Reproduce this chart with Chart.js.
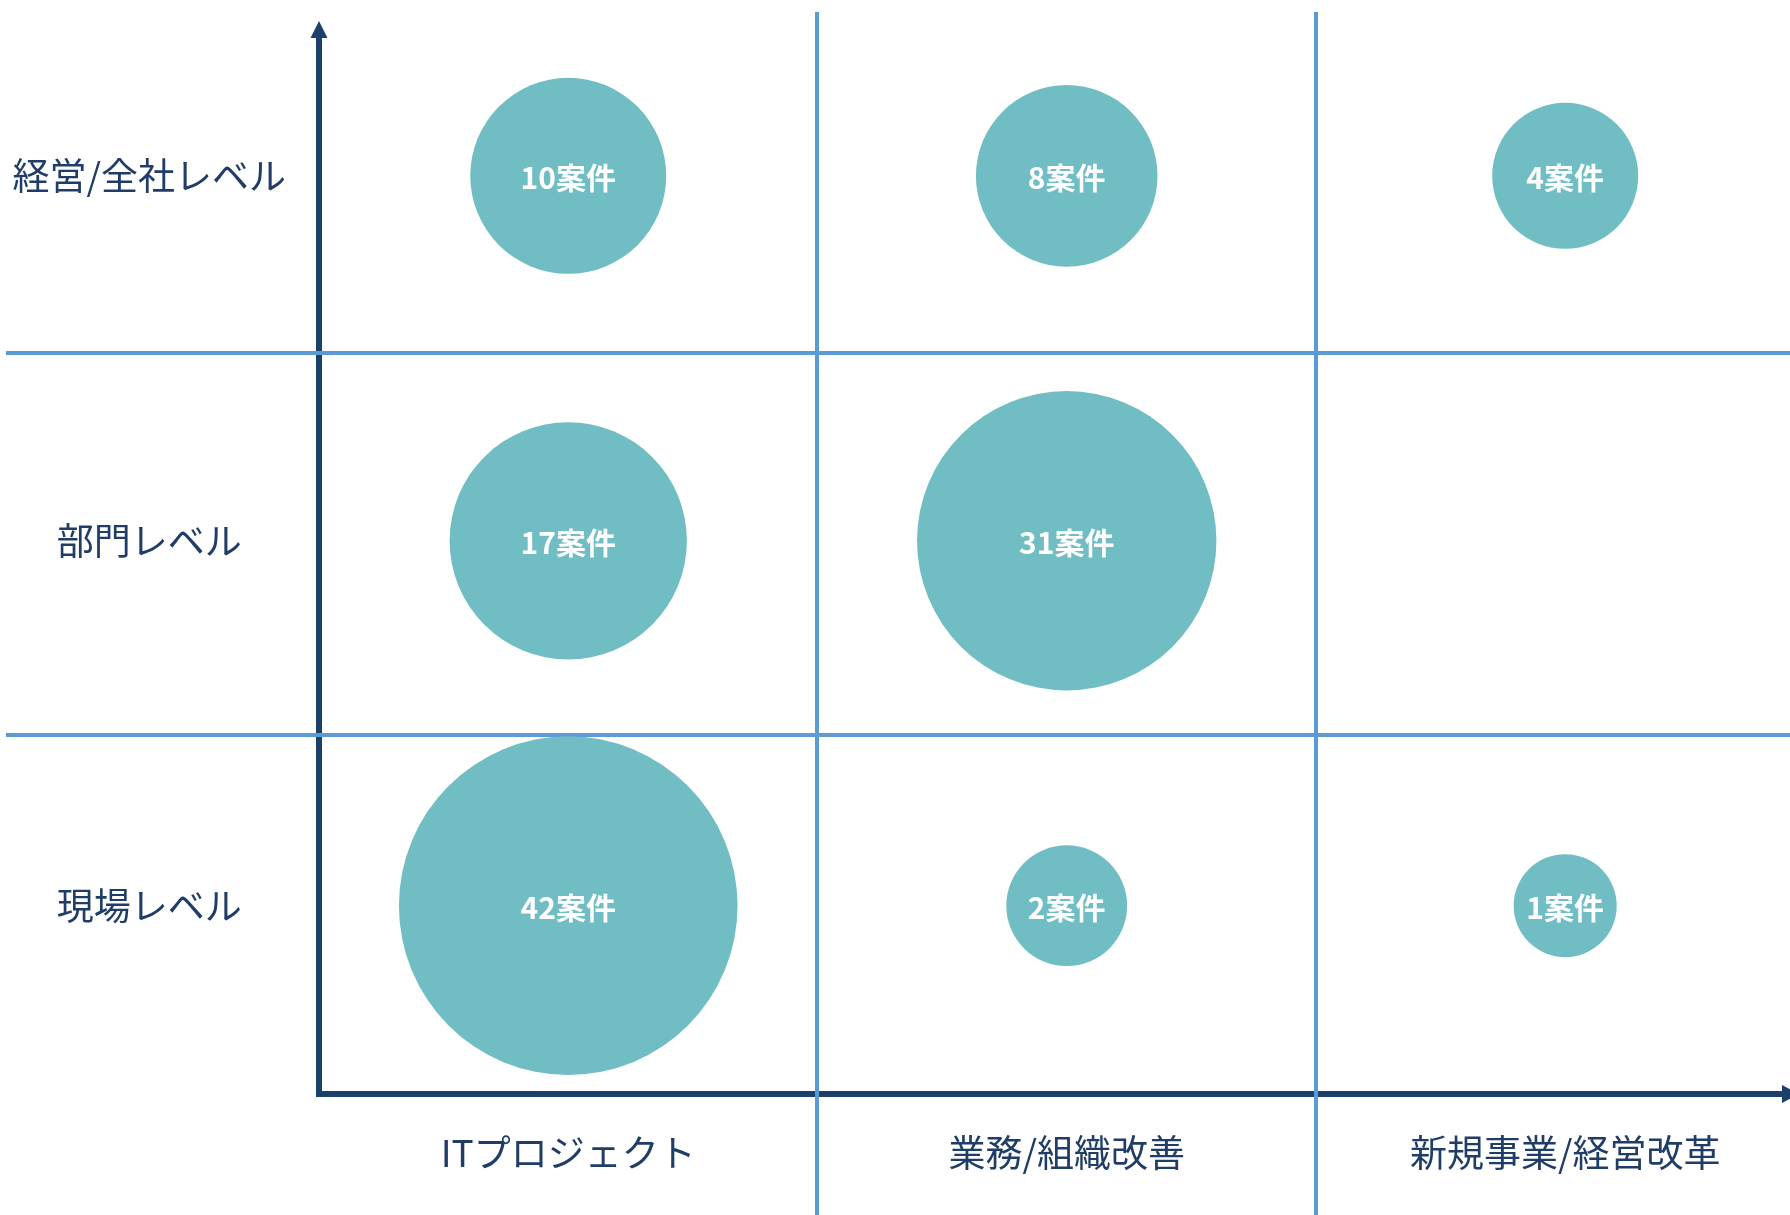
<!DOCTYPE html>
<html lang="ja">
<head>
<meta charset="utf-8">
<title>案件マップ</title>
<script src="https://cdn.jsdelivr.net/npm/chart.js@4.4.1/dist/chart.umd.min.js"></script>
<style>
  html, body { margin: 0; padding: 0; background: #ffffff; overflow: hidden; }
  #projectMap { display: block; }
</style>
</head>
<body>
<canvas id="projectMap" width="1790" height="1215"></canvas>
<script>
// columns (x) and levels (y, bottom to top)
const categories = ['ITプロジェクト', '業務/組織改善', '新規事業/経営改革'];
const levels = ['現場レベル', '部門レベル', '経営/全社レベル'];

// counts per column, ordered like levels (現場, 部門, 経営)
const countsIT = [42, 17, 10];
const countsOps = [2, 31, 8];
const countsNew = [1, null, 4];

const countsByCategory = [countsIT, countsOps, countsNew];

// where the cell dividers sit, in scale units
const xDividers = [0.5, 1.5];
const yDividers = [0.468, 1.515];

const AXIS_COLOR = '#1b406c';
const GRID_COLOR = '#5b9bd5';
const TEXT_COLOR = '#1f3d66';
const BUBBLE_COLOR = '#70bec4';
const JP_FONT = "'Noto Sans CJK JP', 'Noto Sans', sans-serif";

// bubble size grows with sqrt of the count
function radiusFor(count) {
  return 30 + 21.5 * Math.sqrt(count);
}

const bubbles = [];
countsByCategory.forEach((col, ci) => {
  col.forEach((count, li) => {
    if (count == null) return;
    bubbles.push({ x: ci, y: li, r: radiusFor(count), count: count });
  });
});

// axis lines with arrow heads, drawn under the grid
const axisArrows = {
  id: 'axisArrows',
  beforeDraw(chart) {
    const { ctx, chartArea } = chart;
    const { left, top, right, bottom } = chartArea;
    ctx.save();
    ctx.strokeStyle = AXIS_COLOR;
    ctx.fillStyle = AXIS_COLOR;
    ctx.lineWidth = 6;
    ctx.beginPath();
    ctx.moveTo(left, bottom + 3);
    ctx.lineTo(left, top + 24);
    ctx.moveTo(left - 3, bottom);
    ctx.lineTo(right - 6, bottom);
    ctx.stroke();
    // up arrow
    ctx.beginPath();
    ctx.moveTo(left, top + 9);
    ctx.lineTo(left - 8.5, top + 26);
    ctx.lineTo(left + 8.5, top + 26);
    ctx.closePath();
    ctx.fill();
    // right arrow
    ctx.beginPath();
    ctx.moveTo(right + 9, bottom);
    ctx.lineTo(right - 8, bottom - 9);
    ctx.lineTo(right - 8, bottom + 9);
    ctx.closePath();
    ctx.fill();
    ctx.restore();
  }
};

// "N案件" inside each bubble
const bubbleLabels = {
  id: 'bubbleLabels',
  afterDatasetsDraw(chart) {
    const { ctx } = chart;
    const meta = chart.getDatasetMeta(0);
    ctx.save();
    ctx.fillStyle = '#ffffff';
    ctx.font = "bold 30px " + JP_FONT;
    ctx.textAlign = 'center';
    ctx.textBaseline = 'middle';
    meta.data.forEach((el, i) => {
      const d = chart.data.datasets[0].data[i];
      ctx.fillText(d.count + '案件', el.x, el.y + 2);
    });
    ctx.restore();
  }
};

function isDivider(value, list) {
  return list.some(v => Math.abs(v - value) < 1e-6);
}

new Chart(document.getElementById('projectMap'), {
  type: 'bubble',
  data: {
    datasets: [{
      data: bubbles,
      backgroundColor: BUBBLE_COLOR,
      borderWidth: 0,
      hoverBorderWidth: 0,
      hoverRadius: 0
    }]
  },
  options: {
    responsive: false,
    animation: false,
    devicePixelRatio: 1,
    layout: {
      autoPadding: false,
      padding: { top: 12, right: 0, bottom: 0, left: 0 }
    },
    plugins: {
      legend: { display: false },
      tooltip: { enabled: false }
    },
    scales: {
      x: {
        type: 'linear',
        position: 'bottom',
        min: -0.5,
        max: 2.451,
        afterBuildTicks: (scale) => {
          scale.ticks = [0, 0.5, 1, 1.5, 2].map(v => ({ value: v }));
        },
        afterFit: (scale) => { scale.height = 121; },
        border: { display: false },
        grid: {
          lineWidth: 4,
          tickLength: 121,
          color: (ctx) => isDivider(ctx.tick.value, xDividers) ? GRID_COLOR : 'rgba(0,0,0,0)'
        },
        ticks: {
          autoSkip: false,
          maxRotation: 0,
          minRotation: 0,
          padding: -84,
          color: TEXT_COLOR,
          font: { family: JP_FONT, size: 37 },
          callback: (value) => Number.isInteger(value) ? categories[value] : ''
        }
      },
      y: {
        type: 'linear',
        position: 'left',
        min: -0.516,
        max: 2.449,
        afterBuildTicks: (scale) => {
          scale.ticks = [0, yDividers[0], 1, yDividers[1], 2].map(v => ({ value: v }));
        },
        afterFit: (scale) => { scale.width = 319; },
        border: { display: false },
        grid: {
          lineWidth: 4,
          tickLength: 313,
          color: (ctx) => isDivider(ctx.tick.value, yDividers) ? GRID_COLOR : 'rgba(0,0,0,0)'
        },
        ticks: {
          autoSkip: false,
          crossAlign: 'center',
          padding: -280,
          color: TEXT_COLOR,
          font: { family: JP_FONT, size: 37 },
          callback: (value) => Number.isInteger(value) ? levels[value] : ''
        }
      }
    }
  },
  plugins: [axisArrows, bubbleLabels]
});
</script>
</body>
</html>
